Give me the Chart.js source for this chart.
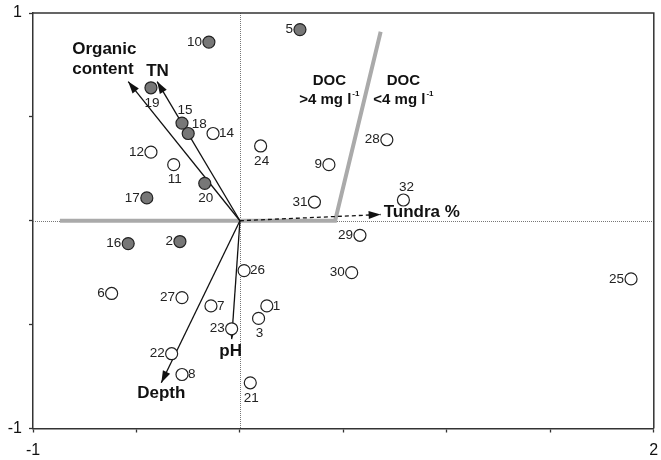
<!DOCTYPE html>
<html>
<head>
<meta charset="utf-8">
<script src="https://cdn.jsdelivr.net/npm/chart.js@4.4.0/dist/chart.umd.min.js"></script>
<style>
  html, body { margin: 0; padding: 0; background: #fff; }
  #wrap { width: 661px; height: 460px; }
</style>
</head>
<body>
<div id="wrap"><canvas id="c" width="661" height="460"></canvas></div>
<script>
// site scores on axis 1 / axis 2, filled = DOC > 4 mg/l
const siteIds    = [1, 2, 3, 5, 6, 7, 8, 9, 10, 11, 12, 14, 15, 16, 17, 18, 19, 20, 21, 22, 23, 24, 25, 26, 27, 28, 29, 30, 31, 32];
const siteX      = [0.13, -0.29, 0.09, 0.29, -0.62, -0.14, -0.28, 0.43, -0.15, -0.32, -0.43, -0.13, -0.28, -0.54, -0.45, -0.25, -0.43, -0.17, 0.05, -0.33, -0.04, 0.10, 1.89, 0.02, -0.28, 0.71, 0.58, 0.54, 0.36, 0.79];
const siteY      = [-0.41, -0.10, -0.47, 0.92, -0.35, -0.41, -0.74, 0.27, 0.86, 0.27, 0.33, 0.42, 0.47, -0.11, 0.11, 0.42, 0.64, 0.18, -0.78, -0.64, -0.52, 0.36, -0.28, -0.24, -0.37, 0.39, -0.07, -0.25, 0.09, 0.10];
const siteHighDoc = [false, true, false, true, false, false, false, false, true, false, false, false, true, true, true, true, true, true, false, false, false, false, false, false, false, false, false, false, false, false];

// environmental vectors
const vectorNames = ['Organic content', 'TN', 'Depth', 'pH', 'Tundra %'];
const vectorX     = [-0.54, -0.40, -0.38, -0.04, 0.68];
const vectorY     = [0.67, 0.67, -0.78, -0.57, 0.03];

// DOC boundary line
const boundaryX = [-0.87, 0.46, 0.68];
const boundaryY = [0, 0, 0.91];

// tick labels shown
const xTickLabels = [-1, 2];
const yTickLabels = [-1, 1];

// where the site number goes relative to its marker
const labelSide = {
  1: 'right', 7: 'right', 8: 'right', 14: 'right', 26: 'right', 18: 'upright',
  3: 'below', 11: 'below', 19: 'below', 20: 'below', 21: 'below', 24: 'below',
  15: 'above', 32: 'above'
};
// vector label offsets from arrow tip (px)
const vectorLabelStyle = {
  'Organic content': { dx: -56, dy: -32, align: 'left', lines: ['Organic', 'content'] },
  'TN': { dx: -11, dy: -10, align: 'left' },
  'Depth': { dx: 0, dy: 11, align: 'center' },
  'pH': { dx: -1, dy: 12, align: 'center' },
  'Tundra %': { dx: 3, dy: -2, align: 'left' }
};

const FONT = '"Liberation Sans", Arial, sans-serif';

function sitePoints(high) {
  const pts = [];
  siteIds.forEach((id, i) => {
    if (siteHighDoc[i] === high) pts.push({ x: siteX[i], y: siteY[i], id: id });
  });
  return pts;
}

const datasets = [
  {
    label: 'DOC > 4',
    data: sitePoints(true),
    pointRadius: 6,
    pointBorderWidth: 1.2,
    borderColor: '#222',
    backgroundColor: '#777',
    order: 0
  },
  {
    label: 'DOC < 4',
    data: sitePoints(false),
    pointRadius: 6,
    pointBorderWidth: 1.2,
    borderColor: '#222',
    backgroundColor: '#fff',
    order: 0
  }
];

vectorNames.forEach((name, i) => {
  datasets.push({
    label: name,
    data: [{ x: 0, y: 0 }, { x: vectorX[i], y: vectorY[i] }],
    showLine: true,
    pointRadius: 0,
    borderColor: '#111',
    borderWidth: 1.3,
    borderDash: name === 'Tundra %' ? [4, 3] : [],
    isVector: true,
    order: 1
  });
});

datasets.push({
  label: 'boundary',
  data: boundaryX.map((x, i) => ({ x: x, y: boundaryY[i] })),
  showLine: true,
  pointRadius: 0,
  borderColor: '#aaa',
  borderWidth: 4,
  order: 2
});

const framePlugin = {
  id: 'frame',
  beforeDatasetsDraw(chart) {
    const { ctx, chartArea: a, scales } = chart;
    const x0 = scales.x.getPixelForValue(0);
    const y0 = scales.y.getPixelForValue(0);
    ctx.save();
    ctx.strokeStyle = '#777';
    ctx.lineWidth = 1;
    ctx.setLineDash([1, 1]);
    ctx.beginPath();
    ctx.moveTo(Math.round(x0) + 0.5, a.top);
    ctx.lineTo(Math.round(x0) + 0.5, a.bottom);
    ctx.moveTo(a.left, Math.round(y0) + 0.5);
    ctx.lineTo(a.right, Math.round(y0) + 0.5);
    ctx.stroke();
    ctx.setLineDash([]);
    ctx.strokeStyle = '#333';
    ctx.lineWidth = 1.5;
    ctx.beginPath();
    ctx.moveTo(a.left, a.top);
    ctx.lineTo(a.right, a.top);
    ctx.lineTo(a.right, a.bottom);
    ctx.stroke();
    ctx.restore();
  },
  // arrow heads drawn right after each vector line, so markers stay on top
  afterDatasetDraw(chart, args) {
    const ds = chart.data.datasets[args.index];
    if (!ds.isVector) return;
    const { ctx } = chart;
    const pts = args.meta.data;
    const p0 = pts[0], p1 = pts[1];
    const ang = Math.atan2(p1.y - p0.y, p1.x - p0.x);
    const len = 12, hw = 4;
    ctx.save();
    ctx.fillStyle = '#111';
    ctx.beginPath();
    ctx.moveTo(p1.x, p1.y);
    ctx.lineTo(p1.x - len * Math.cos(ang) + hw * Math.sin(ang), p1.y - len * Math.sin(ang) - hw * Math.cos(ang));
    ctx.lineTo(p1.x - len * Math.cos(ang) - hw * Math.sin(ang), p1.y - len * Math.sin(ang) + hw * Math.cos(ang));
    ctx.closePath();
    ctx.fill();
    ctx.restore();
  }
};

function drawSup(ctx, main, sup, cx, cy) {
  ctx.font = 'bold 15px ' + FONT;
  const w1 = ctx.measureText(main).width;
  ctx.font = 'bold 8px ' + FONT;
  const w2 = ctx.measureText(sup).width;
  const left = cx - (w1 + w2 + 1) / 2;
  ctx.textAlign = 'left';
  ctx.font = 'bold 15px ' + FONT;
  ctx.fillText(main, left, cy);
  ctx.font = 'bold 8px ' + FONT;
  ctx.fillText(sup, left + w1 + 1, cy - 6);
}

const labelPlugin = {
  id: 'labels',
  afterDatasetsDraw(chart) {
    const { ctx, scales } = chart;
    ctx.save();
    ctx.fillStyle = '#111';
    // vector names
    chart.data.datasets.forEach((ds, di) => {
      if (!ds.isVector) return;
      const p1 = chart.getDatasetMeta(di).data[1];
      const st = vectorLabelStyle[ds.label];
      ctx.font = 'bold 17px ' + FONT;
      ctx.textAlign = st.align;
      ctx.textBaseline = 'middle';
      const lines = st.lines || [ds.label];
      lines.forEach((t, k) => ctx.fillText(t, p1.x + st.dx, p1.y + st.dy + k * 20));
    });
    // site numbers
    ctx.font = '13.5px ' + FONT;
    ctx.fillStyle = '#222';
    ctx.textBaseline = 'middle';
    [0, 1].forEach(di => {
      const meta = chart.getDatasetMeta(di);
      chart.data.datasets[di].data.forEach((d, k) => {
        const el = meta.data[k];
        const side = labelSide[d.id] || 'left';
        const t = String(d.id);
        if (side === 'left') { ctx.textAlign = 'right'; ctx.fillText(t, el.x - 7, el.y); }
        else if (side === 'right') { ctx.textAlign = 'left'; ctx.fillText(t, el.x + 6, el.y); }
        else if (side === 'below') { ctx.textAlign = 'center'; ctx.fillText(t, el.x + 1, el.y + 15); }
        else if (side === 'above') { ctx.textAlign = 'center'; ctx.fillText(t, el.x + 3, el.y - 13); }
        else if (side === 'upright') { ctx.textAlign = 'center'; ctx.fillText(t, el.x + 11, el.y - 9); }
      });
    });
    // DOC region labels
    ctx.fillStyle = '#111';
    ctx.textBaseline = 'middle';
    const lx = scales.x.getPixelForValue(0.432), rx = scales.x.getPixelForValue(0.79);
    const y1 = scales.y.getPixelForValue(0.674), y2 = scales.y.getPixelForValue(0.582);
    ctx.font = 'bold 15px ' + FONT;
    ctx.textAlign = 'center';
    ctx.fillText('DOC', lx, y1);
    ctx.fillText('DOC', rx, y1);
    drawSup(ctx, '>4 mg l', '-1', lx, y2);
    drawSup(ctx, '<4 mg l', '-1', rx, y2);
    ctx.restore();
  }
};

new Chart(document.getElementById('c'), {
  type: 'scatter',
  data: { datasets: datasets },
  options: {
    responsive: false,
    animation: false,
    events: [],
    layout: { padding: { top: 13, right: 5, left: 0, bottom: 0 } },
    plugins: { legend: { display: false }, tooltip: { enabled: false } },
    scales: {
      x: {
        type: 'linear',
        min: -1, max: 2,
        afterFit: s => { s.height = 31.5; s.paddingLeft = 0; s.paddingRight = 0; },
        border: { display: true, color: '#333', width: 1.5 },
        grid: { drawOnChartArea: false, drawTicks: true, tickLength: 4, tickColor: '#333', tickWidth: 1.3 },
        ticks: {
          stepSize: 0.5, autoSkip: false, maxRotation: 0, padding: 8,
          color: '#111', font: { family: FONT, size: 16 },
          callback: v => xTickLabels.includes(v) ? String(v) : ''
        }
      },
      y: {
        type: 'linear',
        min: -1, max: 1,
        afterFit: s => { s.width = 33; s.paddingTop = 0; s.paddingBottom = 0; },
        border: { display: true, color: '#333', width: 1.5 },
        grid: { drawOnChartArea: false, drawTicks: true, tickLength: 4, tickColor: '#333', tickWidth: 1.3 },
        ticks: {
          stepSize: 0.5, autoSkip: false, padding: 7,
          color: '#111', font: { family: FONT, size: 16 },
          callback: v => yTickLabels.includes(v) ? String(v) : ''
        }
      }
    }
  },
  plugins: [framePlugin, labelPlugin]
});
</script>
</body>
</html>
